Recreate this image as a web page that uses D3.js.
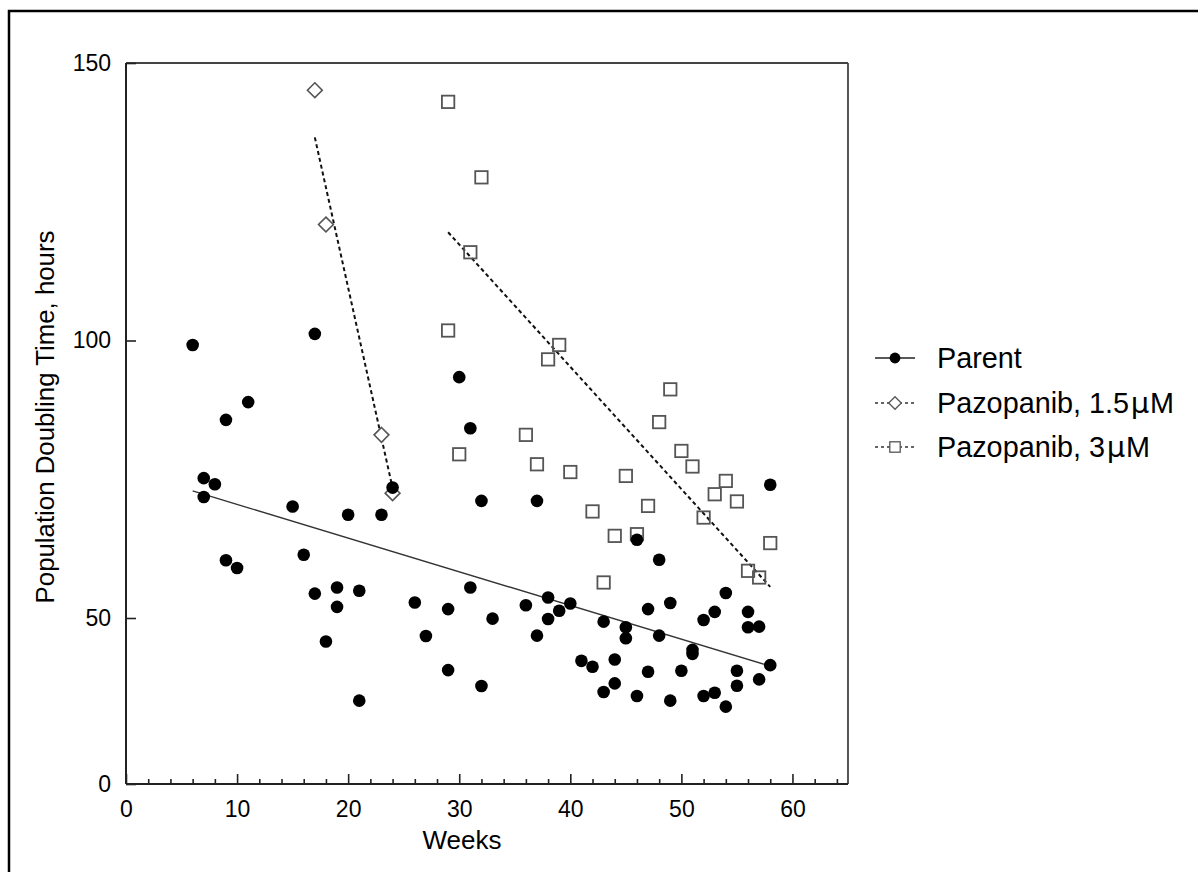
<!DOCTYPE html>
<html>
<head>
<meta charset="utf-8">
<script src="https://cdn.jsdelivr.net/npm/d3@7"></script>
<style>
  html, body { margin: 0; padding: 0; background: #fff; }
  svg { display: block; font-family: "Liberation Sans", Arial, sans-serif; }
</style>
</head>
<body>
<svg id="chart" width="1198" height="872"></svg>
<script>
// ---- Data ----
const parentWeeks = [6,7,7,8,9,9,10,11,15,16,17,17,18,19,19,20,21,21,23,24,26,27,29,29,30,31,31,32,32,33,
  36,37,37,38,38,39,40,41,42,43,43,44,44,45,45,46,46,47,47,48,48,49,49,50,51,51,52,52,53,53,54,54,55,55,56,56,57,57,58,58];
const parentValues = [99.2,75.2,71.8,74.1,85.7,60.4,59.0,88.9,70.1,61.4,101.2,54.4,42.9,55.5,52.0,68.6,54.9,25.1,68.6,73.5,52.8,44.6,51.6,34.3,93.4,84.2,55.5,71.1,29.5,49.8,
  52.3,71.1,44.7,53.7,49.7,51.3,52.6,37.1,35.3,48.9,27.7,37.5,30.3,47.2,43.9,64.1,26.5,51.6,33.8,60.5,44.7,52.7,25.1,34.1,40.4,39.2,49.4,26.5,51.1,27.5,54.5,23.3,34.1,29.6,51.1,47.2,47.4,31.5,74.0,35.8];

const pz15Weeks = [17,18,23,24];
const pz15Values = [145.1,120.9,83.0,72.5];

const pz3Weeks = [29,32,31,29,39,38,49,48,36,50,30,51,37,40,45,54,53,55,47,42,52,44,46,58,56,57,43];
const pz3Values = [143.0,129.4,115.9,101.8,99.2,96.6,91.2,85.3,83.0,80.1,79.5,77.3,77.7,76.3,75.6,74.7,72.3,71.0,70.2,69.2,68.1,64.8,65.1,63.5,58.5,57.3,56.4];

// fitted regression lines (end points)
const parentFitWeeks = [6,58];
const parentFitValues = [72.9,35.5];
const pz15FitWeeks = [17,24];
const pz15FitValues = [136.6,73.4];
const pz3FitWeeks = [29,58];
const pz3FitValues = [119.5,55.6];

const xMajorTicks = [0,10,20,30,40,50,60];
const xMinorTicks = [2,4,6,8,12,14,16,18,22,24,26,28,32,34,36,38,42,44,46,48,52,54,56,58,62,64];
const yTicks = [0,50,100,150];
const xDomain = [0,65];
const yDomain = [0,50,150];

const xTitle = "Weeks";
const yTitle = "Population Doubling Time, hours";
const legendLabels = [["Parent", ""], ["Pazopanib, 1.5", "M"], ["Pazopanib, 3", "M"]];
const muChar = "\u03BC";

// ---- Drawing ----
const svg = d3.select("#chart");
const L = 126, R = 848, T = 63, B = 784;

// outer border
svg.append("rect").attr("x", 9).attr("y", 11).attr("width", 1300).attr("height", 1000)
  .attr("fill", "none").attr("stroke", "#000").attr("stroke-width", 2.5);

const x = d3.scaleLinear().domain(xDomain).range([L, R]);
const y = d3.scaleLinear().domain(yDomain).range([B, 618, T]);

// frame top & right
svg.append("line").attr("x1", L).attr("x2", R).attr("y1", T).attr("y2", T)
  .attr("stroke", "#444").attr("stroke-width", 1.8);
svg.append("line").attr("x1", R).attr("x2", R).attr("y1", T).attr("y2", B)
  .attr("stroke", "#444").attr("stroke-width", 1.8);

// x axis
const gx = svg.append("g").attr("transform", `translate(0,${B})`)
  .call(d3.axisBottom(x).tickValues(xMajorTicks).tickSize(-10).tickPadding(17).tickFormat(d3.format("d")));
gx.selectAll("text").attr("font-size", 23).attr("fill", "#000").attr("font-family", "Liberation Sans, Arial, sans-serif");
gx.selectAll("line").attr("stroke", "#222").attr("stroke-width", 1.6);
gx.select(".domain").attr("stroke", "#222").attr("stroke-width", 2).attr("d", `M${L},0H${R}`);
const gxm = svg.append("g").attr("transform", `translate(0,${B})`)
  .call(d3.axisBottom(x).tickValues(xMinorTicks).tickSize(-5).tickFormat(""));
gxm.select(".domain").remove();
gxm.selectAll("line").attr("stroke", "#222").attr("stroke-width", 1.6);

// y axis
const gy = svg.append("g").attr("transform", `translate(${L},0)`)
  .call(d3.axisLeft(y).tickValues(yTicks).tickSize(-10).tickPadding(15).tickFormat(d3.format("d")));
gy.selectAll("text").attr("font-size", 23).attr("fill", "#000").attr("font-family", "Liberation Sans, Arial, sans-serif");
gy.selectAll("line").attr("stroke", "#222").attr("stroke-width", 1.6);
gy.select(".domain").attr("stroke", "#222").attr("stroke-width", 2).attr("d", `M0,${B}V${T}`);

// titles
svg.append("text").attr("x", 462).attr("y", 849).attr("text-anchor", "middle")
  .attr("font-size", 26).attr("fill", "#000").text(xTitle);
svg.append("text").attr("transform", "translate(54,417) rotate(-90)").attr("text-anchor", "middle")
  .attr("font-size", 25.8).attr("fill", "#000").text(yTitle);

// fit lines
const line = d3.line().x(d => x(d[0])).y(d => y(d[1]));
svg.append("path").datum(d3.zip(parentFitWeeks, parentFitValues)).attr("d", line)
  .attr("fill", "none").attr("stroke", "#333").attr("stroke-width", 1.4);
svg.append("path").datum(d3.zip(pz15FitWeeks, pz15FitValues)).attr("d", line)
  .attr("fill", "none").attr("stroke", "#111").attr("stroke-width", 2).attr("stroke-dasharray", "4,3");
svg.append("path").datum(d3.zip(pz3FitWeeks, pz3FitValues)).attr("d", line)
  .attr("fill", "none").attr("stroke", "#111").attr("stroke-width", 2).attr("stroke-dasharray", "4,3");

// markers
const diamond = s => `M0,${-s}L${s},0L0,${s}L${-s},0Z`;
svg.append("g").selectAll("path").data(d3.zip(pz15Weeks, pz15Values)).join("path")
  .attr("transform", d => `translate(${x(d[0])},${y(d[1])})`)
  .attr("d", diamond(7.4)).attr("fill", "#fff").attr("stroke", "#555").attr("stroke-width", 1.6);
svg.append("g").selectAll("rect").data(d3.zip(pz3Weeks, pz3Values)).join("rect")
  .attr("x", d => x(d[0]) - 6.2).attr("y", d => y(d[1]) - 6.2).attr("width", 12.4).attr("height", 12.4)
  .attr("fill", "none").attr("stroke", "#555").attr("stroke-width", 1.8);
svg.append("g").selectAll("circle").data(d3.zip(parentWeeks, parentValues)).join("circle")
  .attr("cx", d => x(d[0])).attr("cy", d => y(d[1])).attr("r", 6.3).attr("fill", "#000");

// legend
const lg = svg.append("g");
const rows = [358, 403, 447];
const lx1 = 875, lx2 = 915, lxc = 895, ltx = 937;
legendLabels.forEach((lab, i) => {
  const ry = rows[i];
  lg.append("line").attr("x1", lx1).attr("x2", lx2).attr("y1", ry).attr("y2", ry)
    .attr("stroke", i === 0 ? "#222" : "#333").attr("stroke-width", i === 0 ? 1.6 : 1.4)
    .attr("stroke-dasharray", i === 0 ? null : "3,3");
  if (i === 0) {
    lg.append("circle").attr("cx", lxc).attr("cy", ry).attr("r", 5.4).attr("fill", "#000");
  } else if (i === 1) {
    lg.append("path").attr("transform", `translate(${lxc},${ry})`).attr("d", diamond(6.3))
      .attr("fill", "#fff").attr("stroke", "#555").attr("stroke-width", 1.3);
  } else {
    lg.append("rect").attr("x", lxc - 5.2).attr("y", ry - 5.2).attr("width", 10.4).attr("height", 10.4)
      .attr("fill", "#fff").attr("stroke", "#555").attr("stroke-width", 1.3);
  }
  const t = lg.append("text").attr("x", ltx).attr("y", ry + 9.5).attr("font-size", 28.8).attr("fill", "#000");
  t.append("tspan").text(lab[0]);
  if (lab[1]) {
    t.append("tspan").attr("font-family", "DejaVu Sans").attr("font-size", 29).attr("dx", 1.5).text(muChar);
    t.append("tspan").attr("dx", 1).text(lab[1]);
  }
});
</script>
</body>
</html>
